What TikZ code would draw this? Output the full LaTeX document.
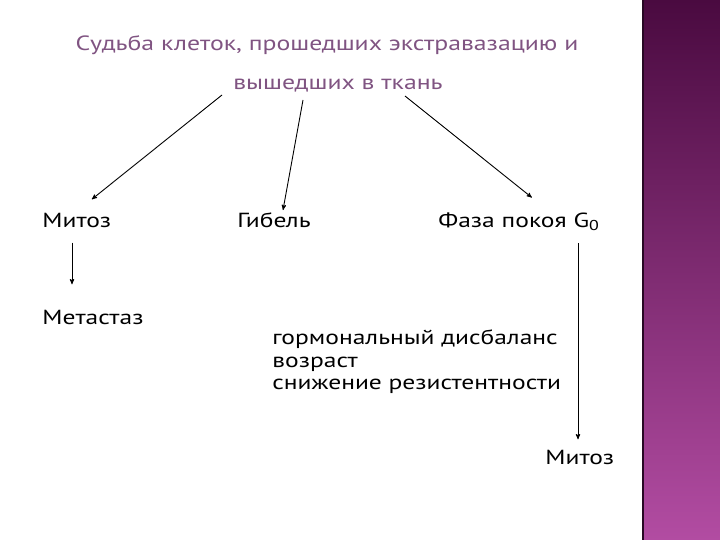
\documentclass[tikz,border=0pt]{standalone}
\usepackage{fontspec}
\setmainfont{PT Sans}[FakeStretch=1.25]
\usepackage{tikz}
\usetikzlibrary{arrows,positioning,calc}
\definecolor{TitlePurple}{RGB}{128,84,130}
\definecolor{BarTop}{RGB}{74,10,64}
\definecolor{BarBottom}{RGB}{178,76,162}
\definecolor{BarEdge}{RGB}{40,8,36}

\begin{document}
\begin{tikzpicture}[x=1pt, y=-1pt, ->, >=stealth', line width=0.9pt,
    title/.style={text=TitlePurple, font=\fontsize{20.6}{24}\selectfont, inner sep=0pt},
    item/.style={font=\fontsize{20.4}{22}\selectfont, inner sep=0pt, anchor=west}]
            \useasboundingbox (0,0) rectangle (720,540);

            % side bar
            \shade[top color=BarTop, bottom color=BarBottom] (642,0) rectangle (720,540);
            \draw[-, BarEdge, line width=1.5pt] (643,0) -- (643,540);

            % title
            \node[title] (t1) at (327,45) {Судьба клеток, прошедших экстравазацию и};
            \node[title] (t2) at (338,86) {вышедших в ткань};

            % outcomes
            \node[item] (mit1) at (42,220) {Митоз};
            \node[item] (gib) at (237,220) {Гибель};
            \node[item] (faza) at (438,222) {Фаза покоя G\textsubscript{0}};
            \node[item] (meta) at (42,317) {Метастаз};
            \node[item, align=left, font=\fontsize{20.4}{22.5}\selectfont] (cause) at (272,362)
                {гормональный дисбаланс\\возраст\\снижение резистентности};
            \node[item] (mit2) at (545,457) {Митоз};

            % arrow start points under the title
            \coordinate (s1) at (222,95);
            \coordinate (s2) at (303,100);
            \coordinate (s3) at (405,96);
            \coordinate (g0) at (578,243);

            % arrows from the title
            \draw (s1) -- ($(mit1.north)+(15,-13)$);
            \draw (s2) -- ($(gib.north)+(9,-2)$);
            \draw (s3) -- ($(faza.north)+(13,-15)$);

            % arrows down
            \draw ($(mit1.south west)+(30,15)$) -- ($(meta.north west)+(30,-25)$);
            \draw[shorten >=10pt] (g0) -- (g0 |- mit2.north);
        \end{tikzpicture}
\end{document}
